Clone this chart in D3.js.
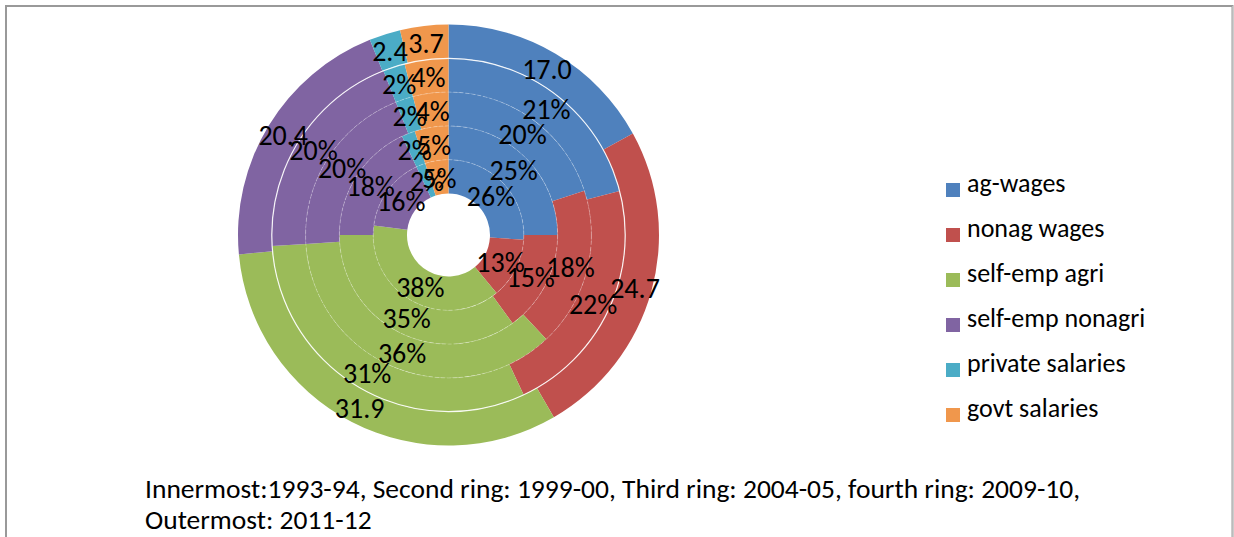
<!DOCTYPE html>
<html>
<head>
<meta charset="utf-8">
<script src="https://cdn.jsdelivr.net/npm/d3@7"></script>
<style>
  body { margin: 0; background: #fff; }
  svg text { font-family: Carlito, Calibri, "Open Sans", sans-serif; fill: #000; }
</style>
</head>
<body>
<svg id="chart" width="1234" height="537"></svg>
<script>
// income source categories
let categories = ["ag-wages", "nonag wages", "self-emp agri", "self-emp nonagri", "private salaries", "govt salaries"];
let colors = ["#4F81BD", "#C0504D", "#9BBB59", "#8064A2", "#4BACC6", "#F0974C"];

// shares per survey year, innermost ring first
let years = ["1993-94", "1999-00", "2004-05", "2009-10", "2011-12"];
let share1993 = [26, 13, 38, 16, 2, 5];
let share1999 = [25, 15, 35, 18, 2, 5];
let share2004 = [20, 18, 36, 20, 2, 4];
let share2009 = [21, 22, 31, 20, 2, 4];
let share2011 = [17.0, 24.7, 31.9, 20.4, 2.4, 3.7];
let rings = [share1993, share1999, share2004, share2009, share2011];

let captionLines = [
  "Innermost:1993-94, Second ring: 1999-00, Third ring: 2004-05, fourth ring: 2009-10,",
  "Outermost: 2011-12"
];

let svg = d3.select("#chart");

// frame
svg.append("path")
  .attr("d", "M6,537 V6 H1232.5 V537")
  .attr("fill", "none")
  .attr("stroke", "#999")
  .attr("stroke-width", 2);
svg.append("line")
  .attr("x1", 1232.5).attr("x2", 1232.5).attr("y1", 6).attr("y2", 537)
  .attr("stroke", "#bbb").attr("stroke-width", 1);

let cx = 448.5, cy = 235;
let hole = 41.5, ringW = 33.8;

let r = d3.scaleLinear().domain([0, rings.length]).range([hole, hole + ringW * rings.length]);

let pie = d3.pie().sort(null).startAngle(0).endAngle(2 * Math.PI);

let g = svg.append("g").attr("transform", "translate(" + cx + "," + cy + ")");

rings.forEach(function (vals, i) {
  let arc = d3.arc().innerRadius(r(i)).outerRadius(r(i + 1));
  g.append("g").selectAll("path")
    .data(pie(vals))
    .enter().append("path")
    .attr("d", arc)
    .attr("fill", function (d, j) { return colors[j]; });
});

// thin white separators between rings
for (let i = 1; i < rings.length; i++) {
  let outer = i == rings.length - 1;
  g.append("circle")
    .attr("r", r(i))
    .attr("fill", "none")
    .attr("stroke", "#fff")
    .attr("stroke-width", outer ? 1.2 : 0.8)
    .attr("stroke-opacity", outer ? 0.9 : 0.35)
    .attr("stroke-dasharray", outer ? null : "4,2");
}

// labels, centred in each slice
rings.forEach(function (vals, i) {
  let arc = d3.arc().innerRadius(r(i)).outerRadius(r(i + 1));
  let last = i == rings.length - 1;
  g.selectAll(".lbl" + i)
    .data(pie(vals))
    .enter().append("text")
    .attr("class", "lbl" + i)
    .attr("transform", function (d) { return "translate(" + arc.centroid(d) + ")"; })
    .attr("text-anchor", "middle")
    .attr("dy", "0.38em")
    .style("font-size", "28px")
    .text(function (d) { return last ? d3.format(".1f")(d.data) : d.data + "%"; });
});

// legend
let legend = svg.append("g").attr("transform", "translate(946,183)");
let item = legend.selectAll("g")
  .data(categories)
  .enter().append("g")
  .attr("transform", function (d, i) { return "translate(0," + i * 45 + ")"; });
item.append("rect")
  .attr("width", 14).attr("height", 14)
  .attr("fill", function (d, i) { return colors[i]; });
item.append("text")
  .attr("x", 21).attr("y", 9)
  .style("font-size", "26px")
  .text(function (d) { return d; });

// caption
svg.selectAll(".caption")
  .data(captionLines)
  .enter().append("text")
  .attr("class", "caption")
  .attr("x", 145)
  .attr("y", function (d, i) { return 498 + i * 31; })
  .style("font-size", "27.5px")
  .text(function (d) { return d; });
</script>
</body>
</html>
